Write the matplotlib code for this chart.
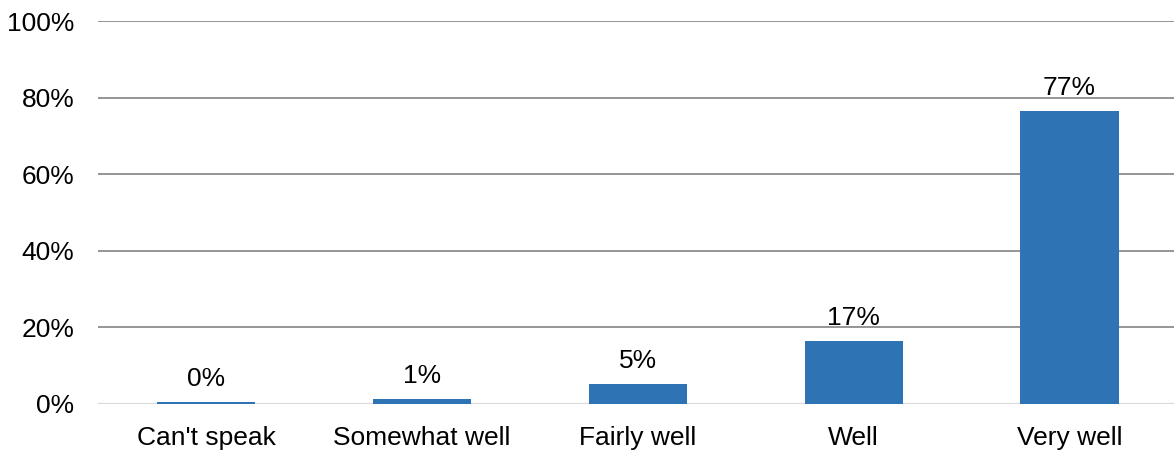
import matplotlib
matplotlib.use('Agg')
import matplotlib.pyplot as plt
from matplotlib.ticker import PercentFormatter

categories = ["Can't speak", "Somewhat well", "Fairly well", "Well", "Very well"]
values = [0.3, 1.1, 5.1, 16.4, 76.5]
labels = ["0%", "1%", "5%", "17%", "77%"]
yticks = [0, 20, 40, 60, 80, 100]

plt.rcParams['font.family'] = ['Liberation Sans', 'DejaVu Sans']

fig = plt.figure(figsize=(11.74, 4.53), dpi=100)
ax = fig.add_axes([0.0835, 0.109, 0.9195, 0.8445])

bars = ax.bar(range(len(categories)), values, width=0.455, color='#2e74b5', zorder=3)

ax.set_ylim(0, 100)
ax.set_xlim(-0.5, len(categories) - 0.5)
ax.set_yticks(yticks)
ax.yaxis.set_major_formatter(PercentFormatter(decimals=0))
ax.set_xticks(range(len(categories)))
ax.set_xticklabels(categories)

for y in yticks[1:]:
    ax.axhline(y, color='#8c8c8c', lw=1.3, zorder=1)
ax.axhline(0, color='#d9d9d9', lw=1.6, zorder=2)

for b, lab in zip(bars, labels):
    ax.annotate(lab, (b.get_x() + b.get_width() / 2, b.get_height()),
                xytext=(0, 8), textcoords='offset points',
                ha='center', va='bottom', fontsize=19, color='#000000')

for s in ax.spines.values():
    s.set_visible(False)
ax.tick_params(axis='both', length=0, labelsize=19, colors='#000000')
ax.tick_params(axis='y', pad=17)
ax.tick_params(axis='x', pad=16)

fig.savefig('out.png', dpi=100, facecolor='white')
